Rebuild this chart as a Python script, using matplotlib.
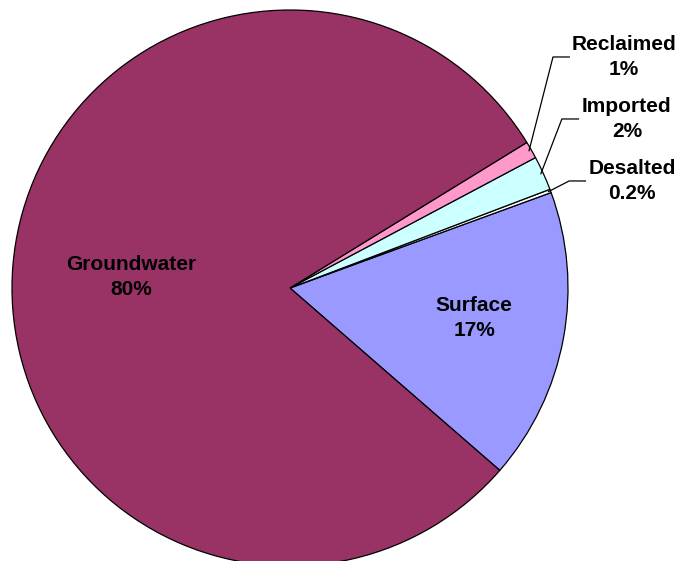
import numpy as np
import matplotlib
matplotlib.use("Agg")
import matplotlib.pyplot as plt

categories = ["Surface", "Desalted", "Imported", "Reclaimed", "Groundwater"]
values = [17, 0.2, 2, 1, 80]
pct_labels = ["17%", "0.2%", "2%", "1%", "80%"]
colors = ["#9999FF", "#FFFFFF", "#CCFFFF", "#FF99CC", "#993366"]

W, H = 678, 561
cx, cy, R = 290, 288, 278

fig = plt.figure(figsize=(W / 100, H / 100), dpi=100)
ax = fig.add_axes([0, 0, 1, 1])

wedges, _ = ax.pie(values, colors=colors, startangle=-41, counterclock=True,
                   radius=1, center=(0, 0), frame=True,
                   wedgeprops=dict(edgecolor="black", linewidth=0.9))
ax.set_xlim(-cx / R, (W - cx) / R)
ax.set_ylim((cy - H) / R, cy / R)
ax.set_aspect("equal")
ax.axis("off")

font = dict(family=["Liberation Sans", "DejaVu Sans"], fontweight="bold",
            fontsize=15, color="black", ha="center", va="center",
            linespacing=1.4)

# inside labels (data-space layout positions)
inside_pos = {"Groundwater": (-0.572, 0.04), "Surface": (0.662, -0.108)}
# outside labels: text pos, elbow, end
outside = {
    "Reclaimed": ((1.201, 0.831), (0.946, 0.831), (1.007, 0.831)),
    "Imported": ((1.212, 0.608), (0.978, 0.608), (1.040, 0.608)),
    "Desalted": ((1.230, 0.385), (1.004, 0.385), (1.065, 0.385)),
}

for w, cat, pl in zip(wedges, categories, pct_labels):
    txt = f"{cat}\n{pl}"
    if cat in inside_pos:
        ax.text(*inside_pos[cat], txt, **font)
    else:
        tpos, elbow, end = outside[cat]
        mid = np.deg2rad((w.theta1 + w.theta2) / 2)
        sx, sy = 0.99 * np.cos(mid), 0.99 * np.sin(mid)
        ax.plot([sx, elbow[0], end[0]], [sy, elbow[1], end[1]],
                color="black", linewidth=0.9, solid_capstyle="butt")
        ax.text(*tpos, txt, **font)

fig.savefig("out.png", dpi=100)
